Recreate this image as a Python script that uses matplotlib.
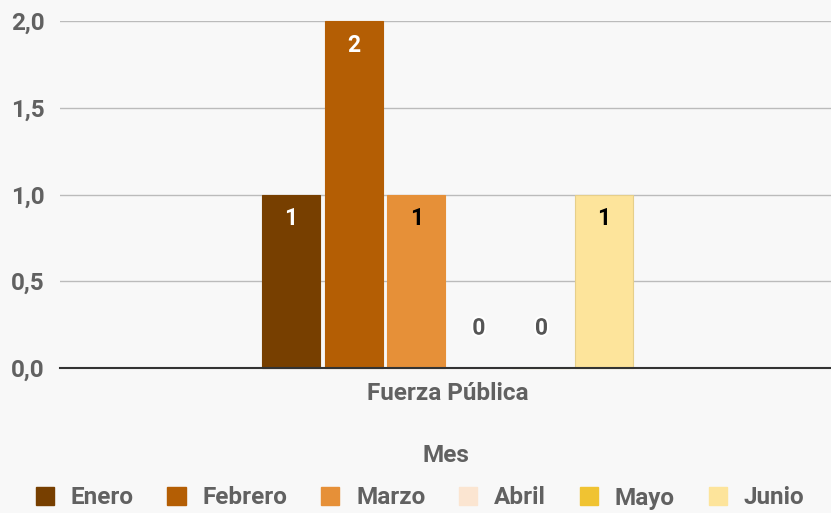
import matplotlib
matplotlib.use("Agg")
import matplotlib.pyplot as plt
import matplotlib.patheffects as pe
from matplotlib.patches import Patch
import numpy as np

plt.rcParams['font.family'] = ['Roboto', 'DejaVu Sans']

category = "Fuerza Pública"
months = ["Enero", "Febrero", "Marzo", "Abril", "Mayo", "Junio"]
values = [1, 2, 1, 0, 0, 1]
colors = ["#773f00", "#b45e04", "#e69038", "#fbe5d1", "#f0c332", "#fde49b"]
label_colors = ["white", "white", "black", "black", "black", "black"]
yticks = [0.0, 0.5, 1.0, 1.5, 2.0]
ytick_labels = ["0,0", "0,5", "1,0", "1,5", "2,0"]

bg = "#f8f8f8"
fs = 17.5
fig = plt.figure(figsize=(8.31, 5.13), dpi=100, facecolor=bg)
ax = fig.add_axes([60/831, 1-368/513, 1-60/831, (368-21)/513], facecolor=bg)

n = len(months)
group_w = 0.4875
slot = group_w / n
bw = slot * 0.926
offsets = (np.arange(n) - (n-1)/2) * slot

for i, (m, v, c) in enumerate(zip(months, values, colors)):
    x = 0 + offsets[i]
    ec = "#e6cf8a" if m == "Junio" else c
    ax.bar(x, v, width=bw, color=c, edgecolor=ec, linewidth=0.8, zorder=3, clip_on=False)
    if v > 0:
        ax.text(x, v - 0.14, f"{v}", ha="center", va="center", fontsize=16.5,
                fontweight="bold", color=label_colors[i], zorder=4)
    else:
        ax.text(x, 0.23, f"{v}", ha="center", va="center", fontsize=16.5,
                fontweight="bold", color="#555555", zorder=4,
                path_effects=[pe.withStroke(linewidth=3, foreground="white")])

ax.set_xlim(-0.5026, 0.4974)
ax.set_ylim(0, 2.0)
ax.set_yticks(yticks)
ax.set_yticklabels(ytick_labels)
ax.set_xticks([0])
ax.set_xticklabels([category])
ax.tick_params(axis="y", length=0, pad=11, labelsize=fs, labelcolor="#616161")
ax.tick_params(axis="x", length=0, pad=10, labelsize=fs, labelcolor="#616161")
for lab in ax.get_yticklabels() + ax.get_xticklabels():
    lab.set_fontweight("bold")
ax.grid(axis="y", color="#bbbbbb", linewidth=1, zorder=0)
for s in ["top", "right", "left"]:
    ax.spines[s].set_visible(False)
ax.spines["bottom"].set_color("#333333")
ax.spines["bottom"].set_linewidth(1.5)
ax.spines["bottom"].set_zorder(5)

fig.text(446/831, 1-455/513, "Mes", ha="center", va="center", fontsize=fs,
         fontweight="bold", color="#616161")
handles = [Patch(facecolor=c, edgecolor=c) for c in colors]
leg = fig.legend(handles, months, loc="center", bbox_to_anchor=(420/831, 1-498/513),
                 ncol=n, frameon=False, handlelength=0.75, handleheight=0.75,
                 handletextpad=0.7, columnspacing=1.38,
                 prop={"family": "Roboto", "weight": "bold", "size": fs})
for t in leg.get_texts():
    t.set_color("#616161")

fig.savefig("out.png", dpi=100, facecolor=bg)
